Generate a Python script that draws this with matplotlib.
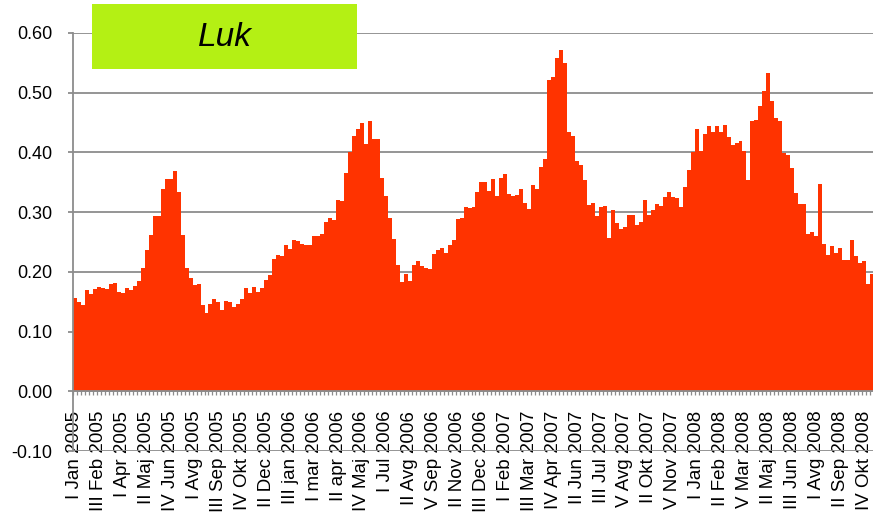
import numpy as np
import matplotlib.pyplot as plt
from matplotlib.patches import Rectangle
from matplotlib.ticker import FormatStrFormatter

plt.rcParams['font.family'] = ['Liberation Sans', 'DejaVu Sans']

# weekly price, Jan 2005 - Oct 2008
values = [
    0.156, 0.150, 0.144, 0.169, 0.163, 0.172, 0.175, 0.173, 0.172, 0.180,
    0.181, 0.166, 0.165, 0.173, 0.170, 0.177, 0.185, 0.207, 0.236, 0.261,
    0.293, 0.294, 0.339, 0.356, 0.355, 0.369, 0.333, 0.261, 0.207, 0.190,
    0.178, 0.179, 0.145, 0.131, 0.146, 0.155, 0.149, 0.136, 0.151, 0.149,
    0.141, 0.147, 0.155, 0.173, 0.164, 0.175, 0.167, 0.173, 0.186, 0.195,
    0.222, 0.228, 0.226, 0.245, 0.239, 0.253, 0.251, 0.247, 0.245, 0.245,
    0.260, 0.260, 0.264, 0.284, 0.291, 0.287, 0.320, 0.319, 0.366, 0.400,
    0.427, 0.440, 0.449, 0.414, 0.453, 0.423, 0.423, 0.358, 0.327, 0.290,
    0.255, 0.211, 0.183, 0.197, 0.185, 0.211, 0.219, 0.210, 0.207, 0.204,
    0.230, 0.236, 0.240, 0.231, 0.245, 0.253, 0.289, 0.290, 0.308, 0.307,
    0.309, 0.333, 0.351, 0.351, 0.336, 0.356, 0.327, 0.358, 0.364, 0.331,
    0.327, 0.328, 0.339, 0.315, 0.305, 0.345, 0.339, 0.376, 0.389, 0.521,
    0.526, 0.558, 0.572, 0.550, 0.434, 0.427, 0.385, 0.379, 0.353, 0.312,
    0.316, 0.293, 0.309, 0.311, 0.256, 0.303, 0.282, 0.272, 0.275, 0.296,
    0.296, 0.279, 0.283, 0.320, 0.295, 0.304, 0.313, 0.311, 0.325, 0.334,
    0.325, 0.324, 0.308, 0.342, 0.370, 0.401, 0.439, 0.403, 0.431, 0.444,
    0.435, 0.445, 0.435, 0.446, 0.426, 0.413, 0.416, 0.419, 0.403, 0.354,
    0.453, 0.455, 0.478, 0.503, 0.533, 0.486, 0.458, 0.453, 0.399, 0.395,
    0.374, 0.332, 0.313, 0.313, 0.264, 0.266, 0.260, 0.347, 0.247, 0.228,
    0.244, 0.232, 0.240, 0.220, 0.220, 0.254, 0.226, 0.214, 0.218, 0.180,
    0.197,
]

# labels shown every 6th week
tick_labels = [
    'I Jan 2005', 'III Feb 2005', 'I Apr 2005', 'II Maj 2005', 'IV Jun 2005',
    'I Avg 2005', 'III Sep 2005', 'IV Okt 2005', 'II Dec 2005', 'III jan 2006',
    'I mar 2006', 'II apr 2006', 'IV Maj 2006', 'I Jul 2006', 'II Avg 2006',
    'V Sep 2006', 'II Nov 2006', 'III Dec 2006', 'I Feb 2007', 'III Mar 2007',
    'IV Apr 2007', 'II Jun 2007', 'III Jul 2007', 'V Avg 2007', 'II Okt 2007',
    'V Nov 2007', 'I Jan 2008', 'II Feb 2008', 'V Mar 2008', 'II Maj 2008',
    'III Jun 2008', 'I Avg 2008', 'II Sep 2008', 'IV Okt 2008',
]
label_step = 6

fig = plt.figure(figsize=(8.73, 5.16), dpi=100)
ax = fig.add_axes([73 / 873, 65 / 516, 801 / 873, 418 / 516])

x = np.arange(len(values))
ax.bar(x, values, width=1.0, color='#FF3300', linewidth=0)

ax.set_xlim(-0.5, len(values) - 0.5)
ax.set_ylim(-0.1, 0.6)
ax.set_yticks(np.arange(-0.1, 0.61, 0.1))
ax.yaxis.set_major_formatter(FormatStrFormatter('%.2f'))
ax.grid(axis='y', color='#8c8c8c', linewidth=1.3)
ax.set_axisbelow(True)

for s in ['top', 'right']:
    ax.spines[s].set_visible(False)
ax.spines['left'].set_color('#8c8c8c')
ax.spines['left'].set_linewidth(1.3)
ax.spines['bottom'].set_position(('data', 0))
ax.spines['bottom'].set_color('#8c8c8c')
ax.spines['bottom'].set_linewidth(1.3)

ax.set_xticks(x[::label_step])
ax.set_xticklabels(tick_labels, rotation=90, fontsize=13.5)
ax.set_xticks(np.arange(-0.5, len(values), 1), minor=True)
ax.tick_params(axis='x', which='major', length=0, pad=14)
ax.tick_params(axis='x', which='minor', length=3, width=0.9, color='#8c8c8c', direction='out')
ax.tick_params(axis='y', length=3.6, width=1.3, color='#8c8c8c', pad=11, labelsize=13)

# title box
box = Rectangle((92 / 873, 1 - 69 / 516), 265 / 873, 65 / 516,
                transform=fig.transFigure, facecolor='#B4F014', edgecolor='none', zorder=5)
fig.add_artist(box)
fig.text((92 + 357) / 2 / 873, 1 - 37 / 516, 'Luk', fontsize=24, style='italic',
         ha='center', va='center', zorder=6)

fig.savefig('out.png', dpi=100)
